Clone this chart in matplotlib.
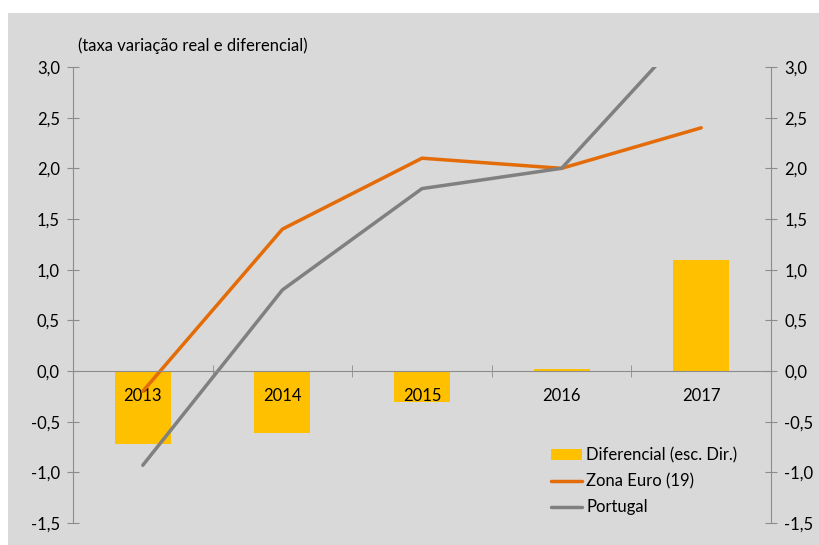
import matplotlib
matplotlib.use("Agg")
import matplotlib.pyplot as plt
from matplotlib.patches import Rectangle
from matplotlib.ticker import FuncFormatter, FixedLocator
import numpy as np

years = ["2013", "2014", "2015", "2016", "2017"]
diferencial = [-0.72, -0.61, -0.31, 0.02, 1.10]
zona_euro = [-0.2, 1.4, 2.1, 2.0, 2.4]
portugal = [-0.93, 0.8, 1.8, 2.0, 3.5]
yticks = [-1.5, -1.0, -0.5, 0.0, 0.5, 1.0, 1.5, 2.0, 2.5, 3.0]

BG = "#D9D9D9"
BAR = "#FFC000"
ORANGE = "#E36C09"
GREY = "#808080"
AXC = "#8C8C8C"
FS = 12

plt.rcParams["font.family"] = ["Lato", "DejaVu Sans"]
plt.rcParams["font.size"] = FS

fig = plt.figure(figsize=(8.2, 5.45), dpi=100, facecolor="white")
fig.patches.append(Rectangle((8 / 820, 0), 1, 1 - 13 / 545, transform=fig.transFigure,
                             facecolor=BG, edgecolor="none", zorder=-10))

ax = fig.add_axes([73 / 820, 1 - 523 / 545, 698 / 820, 456 / 545])
ax.set_facecolor("none")
x = np.arange(len(years))

bars = ax.bar(x, diferencial, width=0.4, color=BAR, label="Diferencial (esc. Dir.)", zorder=1)
l_euro, = ax.plot(x, zona_euro, color=ORANGE, lw=2.5, label="Zona Euro (19)", zorder=2,
                  solid_capstyle="round")
l_pt, = ax.plot(x, portugal, color=GREY, lw=2.5, label="Portugal", zorder=2,
                solid_capstyle="round")

ax.set_xlim(-0.5, len(years) - 0.5)
ax.set_ylim(-1.5, 3.0)

fmt = FuncFormatter(lambda v, p: f"{v:.1f}".replace(".", ","))

for s in ["top", "right"]:
    ax.spines[s].set_visible(False)
ax.spines["left"].set_color(AXC)
ax.spines["bottom"].set_color(AXC)
ax.spines["bottom"].set_position(("data", 0))

ax.yaxis.set_major_locator(FixedLocator(yticks))
ax.yaxis.set_major_formatter(fmt)
ax.tick_params(axis="y", direction="inout", length=9, color=AXC, pad=5, labelsize=FS)

ax.set_xticks(x)
ax.set_xticklabels(years)
ax.set_xticks(np.arange(0.5, len(years) - 0.5, 1), minor=True)
ax.tick_params(axis="x", which="major", length=0, pad=12, labelsize=FS)
ax.tick_params(axis="x", which="minor", direction="inout", length=9, color=AXC)

ax2 = ax.twinx()
ax2.set_ylim(ax.get_ylim())
for s in ["top", "left", "bottom"]:
    ax2.spines[s].set_visible(False)
ax2.spines["right"].set_color(AXC)
ax2.yaxis.set_major_locator(FixedLocator(yticks))
ax2.yaxis.set_major_formatter(fmt)
ax2.tick_params(axis="y", direction="inout", length=9, color=AXC, pad=5, labelsize=FS)
ax2.set_facecolor("none")

fig.text(78 / 820, 1 - 46 / 545, "(taxa variação real e diferencial)", fontsize=FS,
         va="center", ha="left")

leg = ax.legend([bars, l_euro, l_pt],
                ["Diferencial (esc. Dir.)", "Zona Euro (19)", "Portugal"],
                loc="upper left", bbox_to_anchor=(551 / 820, 1 - 447 / 545),
                bbox_transform=fig.transFigure, frameon=False, fontsize=FS,
                handlelength=1.85, handleheight=0.6, handletextpad=0.25,
                labelspacing=0.6, borderaxespad=0, borderpad=0)

fig.savefig("out.png", dpi=100, facecolor="white")
